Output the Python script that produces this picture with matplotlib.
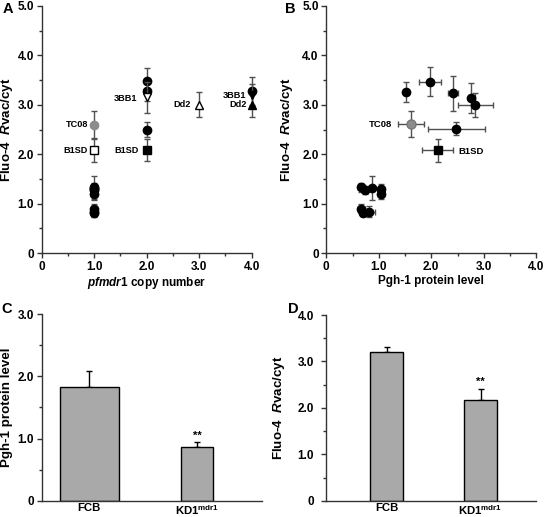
import numpy as np
import matplotlib.pyplot as plt

plt.rcParams['font.family'] = ['Liberation Sans', 'DejaVu Sans']
plt.rcParams['font.weight'] = 'bold'
plt.rcParams['mathtext.fontset'] = 'custom'
plt.rcParams['mathtext.rm'] = 'Liberation Sans:bold'
plt.rcParams['mathtext.bf'] = 'Liberation Sans:bold'
plt.rcParams['mathtext.it'] = 'Liberation Sans:italic:bold'

# ---- panel A: copy number vs Rvac/cyt ----
a_x = [1, 1, 1, 1, 1, 1, 1, 1, 2, 2, 2, 4]
a_y = [1.33, 1.27, 1.32, 1.30, 1.19, 0.90, 0.82, 0.84, 3.48, 3.27, 2.50, 3.28]
a_err = [0.09, 0.08, 0.24, 0.10, 0.10, 0.10, 0.08, 0.11, 0.27, 0.20, 0.15, 0.28]

# labelled strains
a_lab_name = ['TC08', 'B1SD', '3BB1', 'B1SD', 'Dd2', '3BB1', 'Dd2']
a_lab_x = [1, 1, 2, 2, 3, 4, 4]
a_lab_y = [2.60, 2.08, 3.15, 2.08, 3.00, 3.20, 3.00]
a_lab_err = [0.28, 0.23, 0.32, 0.22, 0.25, 0.22, 0.25]
a_lab_marker = ['o', 's', 'v', 's', '^', 'v', '^']
a_lab_face = ['#8c8c8c', 'white', 'white', 'black', 'white', 'black', 'black']

# ---- panel B: Pgh-1 level vs Rvac/cyt ----
b_x = [1.52, 1.97, 2.41, 2.76, 2.84, 2.48, 0.67, 0.74, 0.88, 1.04, 1.04, 0.67, 0.70, 0.81]
b_y = [3.26, 3.47, 3.23, 3.14, 3.00, 2.52, 1.33, 1.27, 1.32, 1.30, 1.19, 0.90, 0.82, 0.84]
b_xerr = [0.02, 0.21, 0.10, 0.05, 0.34, 0.54, 0.065, 0.06, 0.03, 0.02, 0.02, 0.07, 0.04, 0.12]
b_yerr = [0.20, 0.29, 0.35, 0.30, 0.24, 0.13, 0.09, 0.08, 0.24, 0.10, 0.10, 0.10, 0.08, 0.11]
b_tc08 = (1.61, 2.61, 0.25, 0.27)
b_b1sd = (2.12, 2.08, 0.29, 0.23)

# ---- panels C, D: bars ----
bar_names = ['FCB', 'KD1$^{\\mathrm{mdr1}}$']
c_vals = [1.83, 0.86]
c_err = [0.26, 0.08]
d_vals = [3.21, 2.17]
d_err = [0.11, 0.24]

fig = plt.figure(figsize=(5.46, 5.17), dpi=100)
axA = fig.add_axes([0.0764, 0.5106, 0.3846, 0.4778])
axB = fig.add_axes([0.5976, 0.5106, 0.3846, 0.4778])
axC = fig.add_axes([0.0764, 0.031, 0.403, 0.3616])
axD = fig.add_axes([0.597, 0.031, 0.385, 0.3597])

ecol = '#505050'
ylab = 'Fluo-4  $\\mathit{R}$vac/cyt'
tfs = 8.5


def style(ax, ymax, ystep, ylabel, lpad, tpad=2):
    for s in ['top', 'right']:
        ax.spines[s].set_visible(False)
    for s in ['left', 'bottom']:
        ax.spines[s].set_linewidth(1.0)
        ax.spines[s].set_color('#333333')
    ax.set_ylim(0, ymax)
    ax.set_yticks(np.arange(0, ymax + 0.01, ystep))
    ax.set_yticks(np.arange(0.5, ymax, ystep), minor=True)
    ax.set_yticklabels(['0'] + ['%.1f' % v for v in np.arange(ystep, ymax + 0.01, ystep)])
    ax.tick_params(axis='both', which='major', direction='out', length=3.5, width=1,
                   labelsize=tfs, pad=2, color='#333333')
    ax.tick_params(axis='y', which='major', pad=tpad)
    ax.tick_params(axis='both', which='minor', direction='out', length=2, width=1, color='#333333')
    ax.set_ylabel(ylabel, fontsize=9.6, fontweight='bold', labelpad=lpad)
    for t in ax.get_xticklabels() + ax.get_yticklabels():
        t.set_fontweight('bold')


def xaxis4(ax, label):
    ax.set_xlim(0, 4.0)
    ax.set_xticks([0, 1, 2, 3, 4])
    ax.set_xticks([0.5, 1.5, 2.5, 3.5], minor=True)
    ax.set_xticklabels(['0', '1.0', '2.0', '3.0', '4.0'], fontweight='bold')
    ax.set_xlabel(label, fontsize=8.5, fontweight='bold', labelpad=2)


# A
style(axA, 5.0, 1.0, ylab, 2)
xaxis4(axA, '$\\mathit{pfmdr1}$ copy number')
axA.errorbar(a_x, a_y, yerr=a_err, fmt='o', color='black', ms=6, ecolor=ecol,
             elinewidth=1, capsize=2.5, capthick=1, zorder=3, clip_on=False)
for i in range(len(a_lab_name)):
    axA.errorbar(a_lab_x[i], a_lab_y[i], yerr=a_lab_err[i], fmt=a_lab_marker[i],
                 mfc=a_lab_face[i], mec='#8c8c8c' if a_lab_name[i] == 'TC08' else 'black',
                 ms=6, ecolor=ecol, elinewidth=1, capsize=2.5, capthick=1, zorder=4, clip_on=False)
lab_off = [(-0.12, 0.0), (-0.12, 0.0), (-0.18, -0.03), (-0.16, 0.0), (-0.16, 0.0), (-0.10, -0.01), (-0.10, 0.01)]
for i in range(len(a_lab_name)):
    axA.text(a_lab_x[i] + lab_off[i][0], a_lab_y[i] + lab_off[i][1], a_lab_name[i],
             ha='right', va='center', fontsize=6.6, fontweight='bold')
fig.text(0.004, 0.982, 'A', fontsize=10.5, fontweight='bold', va='center')

# B
style(axB, 5.0, 1.0, ylab, 5)
xaxis4(axB, 'Pgh-1 protein level')
axB.errorbar(b_x, b_y, xerr=b_xerr, yerr=b_yerr, fmt='o', color='black', ms=6,
             ecolor=ecol, elinewidth=1, capsize=2.5, capthick=1, zorder=3)
axB.errorbar(b_tc08[0], b_tc08[1], xerr=b_tc08[2], yerr=b_tc08[3], fmt='o', mfc='#8c8c8c',
             mec='#777777', ms=6.5, ecolor=ecol, elinewidth=1, capsize=2.5, capthick=1, zorder=3)
axB.errorbar(b_b1sd[0], b_b1sd[1], xerr=b_b1sd[2], yerr=b_b1sd[3], fmt='s', color='black',
             ms=6, ecolor=ecol, elinewidth=1, capsize=2.5, capthick=1, zorder=3)
axB.text(1.257, b_tc08[1], 'TC08', ha='right', va='center', fontsize=6.8, fontweight='bold')
axB.text(2.52, 2.06, 'B1SD', ha='left', va='center', fontsize=6.8, fontweight='bold')
fig.text(0.522, 0.982, 'B', fontsize=10.5, fontweight='bold', va='center')

# C
style(axC, 3.0, 1.0, 'Pgh-1 protein level', 3)
axC.set_xlim(0.562, 2.599)
axC.bar([1, 2], c_vals, width=[0.546, 0.296], color='#a9a9a9', edgecolor='black', linewidth=1, zorder=2)
axC.errorbar([1, 2], c_vals, yerr=[[0, 0], c_err], fmt='none', ecolor='black',
             elinewidth=1, capsize=2.5, capthick=1, zorder=1)
axC.text(2, c_vals[1] + c_err[1] + 0.03, '**', ha='center', va='bottom', fontsize=8, fontweight='bold')
axC.set_xticks([1, 2])
axC.set_xticklabels(bar_names, fontweight='bold')
axC.tick_params(axis='x', length=0, pad=1.5, labelsize=8.2)
fig.text(0.002, 0.402, 'C', fontsize=10.5, fontweight='bold', va='center')

# D
style(axD, 4.0, 1.0, ylab, 8, tpad=5)
axD.set_xlim(0.353, 2.592)
axD.bar([1, 2], d_vals, width=0.35, color='#a9a9a9', edgecolor='black', linewidth=1, zorder=2)
axD.errorbar([1, 2], d_vals, yerr=[[0, 0], d_err], fmt='none', ecolor='black',
             elinewidth=1, capsize=2.5, capthick=1, zorder=1)
axD.text(2, d_vals[1] + d_err[1] + 0.05, '**', ha='center', va='bottom', fontsize=8, fontweight='bold')
axD.set_xticks([1, 2])
axD.set_xticklabels(bar_names, fontweight='bold')
axD.tick_params(axis='x', length=0, pad=1.5, labelsize=8.2)
fig.text(0.527, 0.402, 'D', fontsize=10.5, fontweight='bold', va='center')

fig.savefig('out.png', dpi=100)
